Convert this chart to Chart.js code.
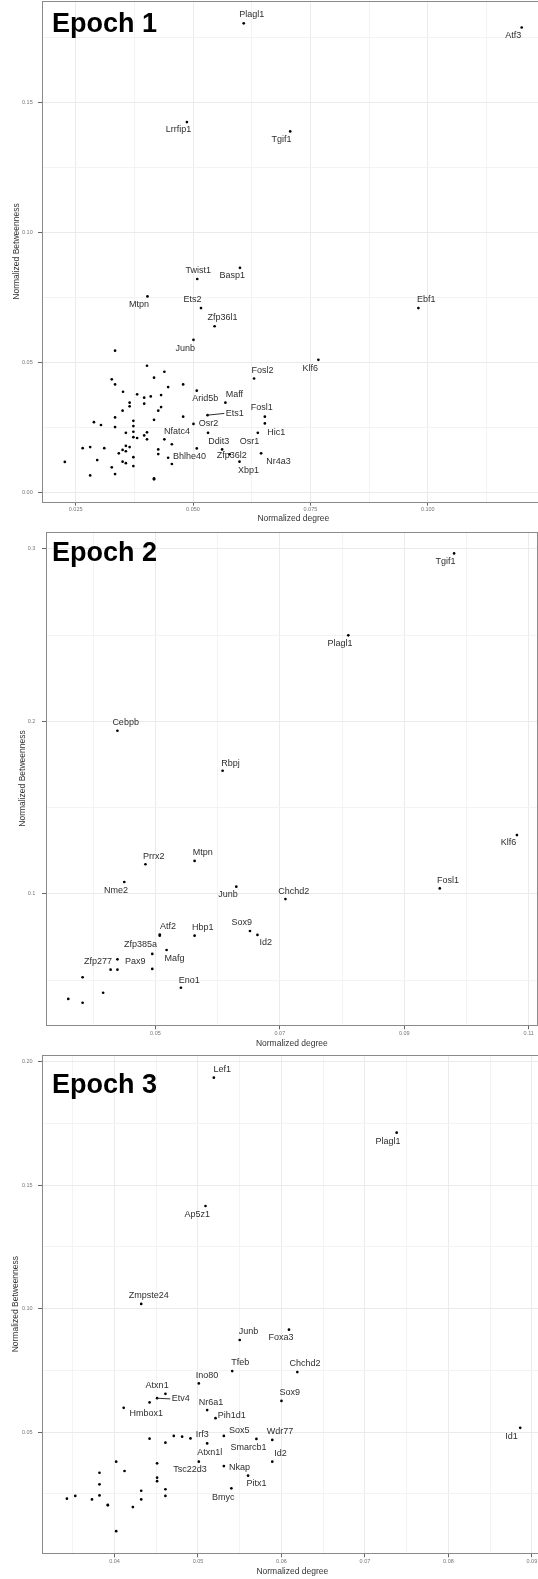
<!DOCTYPE html>
<html>
<head>
<meta charset="utf-8">
<script src="https://cdn.jsdelivr.net/npm/chart.js@4.4.1/dist/chart.umd.min.js"></script>
<style>
html,body{margin:0;padding:0;background:#fff;overflow:hidden;width:538px;height:1579px;}
#wrap{position:relative;width:538px;height:1579px;overflow:hidden;background:#fff;}
canvas{position:absolute;left:0;}
.epoch{position:absolute;left:52px;font-family:"Liberation Sans",Arial,Helvetica,sans-serif;font-weight:bold;font-size:27px;line-height:27px;color:#000;white-space:nowrap;z-index:2;}
</style>
</head>
<body>
<div id="wrap">
<canvas id="c1" width="546" height="526" style="top:0px;width:546px;height:526px"></canvas>
<canvas id="c2" width="539" height="524" style="top:526px;width:539px;height:524px"></canvas>
<canvas id="c3" width="544" height="529" style="top:1050px;width:544px;height:529px"></canvas>
<div class="epoch" style="top:9.5px">Epoch 1</div>
<div class="epoch" style="top:539px">Epoch 2</div>
<div class="epoch" style="top:1070.5px">Epoch 3</div>
</div>
<script>
const FONT = '"Liberation Sans", Arial, Helvetica, sans-serif';

// ---------------- Epoch 1 ----------------
const e1Genes = ['Plagl1','Atf3','Lrrfip1','Tgif1','Twist1','Basp1','Mtpn','Ets2','Zfp36l1','Ebf1','Junb','Klf6','Fosl2','Arid5b','Maff','Ets1','Fosl1','Hic1','Osr2','Ddit3','Osr1','Nfatc4','Zfp36l2','Nr4a3','Bhlhe40','Xbp1'];
const e1Degree = [0.0608,0.1200,0.0487,0.0707,0.0509,0.0600,0.0403,0.0517,0.0546,0.0980,0.0501,0.0767,0.0630,0.0508,0.0569,0.0531,0.0653,0.0653,0.0501,0.0532,0.0638,0.0439,0.0562,0.0645,0.0447,0.0599];
const e1Betweenness = [0.1805,0.1789,0.1425,0.1389,0.0821,0.0864,0.0754,0.0709,0.0639,0.0709,0.0587,0.0510,0.0438,0.0391,0.0345,0.0297,0.0291,0.0265,0.0263,0.0229,0.0229,0.0204,0.0165,0.0150,0.0133,0.0118];
const e1OtherDegree = [0.0334,0.0402,0.0327,0.0334,0.0417,0.0351,0.0381,0.0396,0.0410,0.0365,0.0365,0.0396,0.0426,0.0350,0.0334,0.0417,0.0289,0.0304,0.0334,0.0373,0.0373,0.0373,0.0357,0.0373,0.0381,0.0396,0.0402,0.0402,0.0265,0.0281,0.0311,0.0357,0.0365,0.0350,0.0357,0.0342,0.0373,0.0426,0.0426,0.0227,0.0296,0.0350,0.0357,0.0373,0.0327,0.0334,0.0281,0.0417,0.0417,0.0439,0.0479,0.0447,0.0432,0.0432,0.0479,0.0455,0.0508,0.0578,0.0455];
const e1OtherBetweenness = [0.0545,0.0487,0.0435,0.0415,0.0441,0.0387,0.0377,0.0364,0.0369,0.0345,0.0331,0.0341,0.0314,0.0314,0.0288,0.0279,0.0270,0.0259,0.0251,0.0275,0.0255,0.0233,0.0229,0.0212,0.0209,0.0219,0.0231,0.0204,0.0170,0.0174,0.0170,0.0179,0.0174,0.0163,0.0158,0.0150,0.0135,0.0165,0.0147,0.0117,0.0124,0.0118,0.0112,0.0101,0.0096,0.0070,0.0065,0.0054,0.0050,0.0464,0.0415,0.0405,0.0374,0.0328,0.0291,0.0185,0.0169,0.0146,0.0109];
const e1XTicks = [0.025,0.05,0.075,0.1];
const e1XTickLabels = ['0.025','0.050','0.075','0.100'];
const e1YTicks = [0,0.05,0.1,0.15];
const e1YTickLabels = ['0.00','0.05','0.10','0.15'];
const e1XRange = [0.01784,0.12489];
const e1YRange = [-0.00362,0.18896];

// ---------------- Epoch 2 ----------------
const e2Genes = ['Tgif1','Plagl1','Cebpb','Rbpj','Klf6','Prrx2','Mtpn','Nme2','Junb','Chchd2','Fosl1','Sox9','Id2','Hbp1','Atf2','Zfp385a','Mafg','Zfp277','Pax9','Eno1'];
const e2Degree = [0.0980,0.0810,0.0439,0.0608,0.1081,0.0484,0.0563,0.0450,0.0630,0.0709,0.0957,0.0652,0.0664,0.0563,0.0507,0.0495,0.0518,0.0439,0.0495,0.0541];
const e2Betweenness = [0.2974,0.2499,0.1946,0.1714,0.1341,0.1172,0.1191,0.1069,0.1042,0.0970,0.1032,0.0785,0.0762,0.0758,0.0764,0.0652,0.0675,0.0621,0.0565,0.0456];
const e2OtherDegree = [0.0507,0.0428,0.0439,0.0383,0.0416,0.0360,0.0383];
const e2OtherBetweenness = [0.0758,0.0561,0.0561,0.0517,0.0427,0.0391,0.0369];
const e2XTicks = [0.05,0.07,0.09,0.11];
const e2XTickLabels = ['0.05','0.07','0.09','0.11'];
const e2YTicks = [0.1,0.2,0.3];
const e2YTickLabels = ['0.1','0.2','0.3'];
const e2XRange = [0.03242,0.11143];
const e2YRange = [0.02383,0.3100];

// ---------------- Epoch 3 ----------------
const e3Genes = ['Lef1','Plagl1','Ap5z1','Zmpste24','Junb','Foxa3','Tfeb','Chchd2','Ino80','Atxn1','Etv4','Hmbox1','Nr6a1','Pih1d1','Sox9','Id1','Irf3','Sox5','Atxn1l','Smarcb1','Wdr77','Id2','Tsc22d3','Nkap','Pitx1','Bmyc'];
const e3Degree = [0.0519,0.0738,0.0509,0.0432,0.0550,0.0609,0.0541,0.0619,0.0501,0.0461,0.0451,0.0411,0.0511,0.0521,0.0600,0.0886,0.0491,0.0531,0.0511,0.0570,0.0589,0.0589,0.0501,0.0531,0.0560,0.0540];
const e3Betweenness = [0.1936,0.1713,0.1416,0.1019,0.0873,0.0915,0.0747,0.0743,0.0697,0.0655,0.0637,0.0598,0.0589,0.0556,0.0626,0.0517,0.0474,0.0484,0.0454,0.0472,0.0468,0.0380,0.0380,0.0362,0.0323,0.0272];
const e3OtherDegree = [0.0442,0.0471,0.0481,0.0442,0.0461,0.0402,0.0412,0.0382,0.0382,0.0382,0.0451,0.0451,0.0451,0.0432,0.0432,0.0461,0.0461,0.0343,0.0353,0.0373,0.0392,0.0392,0.0422,0.0402];
const e3OtherBetweenness = [0.0620,0.0484,0.0481,0.0473,0.0457,0.0380,0.0342,0.0335,0.0288,0.0243,0.0373,0.0315,0.0301,0.0262,0.0227,0.0268,0.0241,0.0230,0.0241,0.0227,0.0205,0.0203,0.0196,0.0098];
const e3XTicks = [0.04,0.05,0.06,0.07,0.08,0.09];
const e3XTickLabels = ['0.04','0.05','0.06','0.07','0.08','0.09'];
const e3YTicks = [0.05,0.1,0.15,0.2];
const e3YTickLabels = ['0.05','0.10','0.15','0.20'];
const e3XRange = [0.031314,0.09129];
const e3YRange = [0.00085,0.2028];

// ---------------- label placement (text nudges in px, repel-style) ----------------
const e1LabelNudge = [[8,-9],[-8.5,8.3],[-8.5,7.7],[-8.8,8.3],[1,-8.7],[-7.8,7.7],[-8.5,8.3],[-8.5,-8.3],[7.8,-8.3],[7.8,-8.3],[-8.2,9],[-8.2,8.3],[8.4,-8.3],[8.4,7.6],[9,-7.7],[27.3,-1.7],[-3,-9],[11.4,9],[15,0],[10.7,8.3],[-8.3,8.3],[12.7,-7.6],[9.6,5.7],[17.3,8.4],[21.3,-1],[9,9]];
const e2LabelNudge = [[-8.5,8.3],[-8.2,8],[8.2,-8],[7.8,-7.4],[-8.5,7.7],[8.2,-8],[8.2,-8],[-8.2,8],[-8.2,8.3],[8.2,-8],[8.2,-8.3],[-8.2,-8],[8.2,8],[8.2,-8],[8.3,-8.3],[-11.7,-9],[8,8.7],[-19.4,2.4],[-17,-7.3],[8.3,-7.7]];
const e3LabelNudge = [[8.3,-8.3],[-8.7,8.3],[-8.3,8.3],[7.6,-8.3],[8.7,-8],[-8,8.3],[8,-8.3],[7.6,-8.3],[8.3,-8],[-8.3,-8.7],[23.7,0.7],[22.5,5.5],[3.9,-7.7],[16.3,-2.6],[8.3,-8.3],[-8.7,8.3],[11.7,-4.3],[15.3,-5.3],[2.7,9],[-7.9,8.3],[7.7,-8],[8.2,-8.4],[-8.8,8.3],[15.7,1.3],[8.4,8.3],[-8,9]];

const MAJOR_GRID = '#ebebeb';
const MINOR_GRID = '#f3f3f3';

function tickList(major, labels, min, max) {
  const step = major[1] - major[0];
  const map = {};
  major.forEach((v, i) => { map[v.toFixed(5)] = labels[i]; });
  const values = [];
  for (let k = -6; k <= 2 * major.length + 6; k++) {
    const v = +(major[0] + k * step / 2).toFixed(6);
    if (v >= min - 1e-9 && v <= max + 1e-9) values.push(v);
  }
  return {
    values,
    label: v => { const s = map[(+v).toFixed(5)]; return s === undefined ? '' : s; },
    isMajor: v => map[(+v).toFixed(5)] !== undefined
  };
}

function makePanel(p) {
  const xt = tickList(p.xMajor, p.xLabels, p.xRange[0], p.xRange[1]);
  const yt = tickList(p.yMajor, p.yLabels, p.yRange[0], p.yRange[1]);
  const labelled = p.genes.map((g, i) => ({x: p.degree[i], y: p.betweenness[i]}));
  const others = p.otherDegree.map((d, i) => ({x: d, y: p.otherBetweenness[i]}));
  const ptStyle = {pointRadius: 1.35, pointHoverRadius: 1.35, pointBackgroundColor: '#000', pointBorderColor: '#000', pointBorderWidth: 0, showLine: false};
  const decor = {
    id: 'panelDecor',
    beforeDatasetsDraw(chart) {
      const a = chart.chartArea, ctx = chart.ctx;
      ctx.save();
      ctx.strokeStyle = '#8a8a8a';
      ctx.lineWidth = 1;
      const l = Math.round(a.left) + 0.5, t = Math.round(a.top) + 0.5;
      const r = Math.round(a.right) - 0.5, b = Math.round(a.bottom) + 0.5;
      ctx.strokeRect(l, t, r - l, b - t);
      ctx.restore();
    },
    afterDatasetsDraw(chart) {
      const ctx = chart.ctx;
      const meta = chart.getDatasetMeta(0);
      ctx.save();
      ctx.font = '9px ' + FONT;
      ctx.fillStyle = '#2e2e2e';
      ctx.textAlign = 'center';
      ctx.textBaseline = 'middle';
      p.genes.forEach((g, i) => {
        const el = meta.data[i];
        const nd = p.nudge[i];
        const lx = el.x + nd[0], ly = el.y + nd[1];
        if (p.leaders.indexOf(g) >= 0) {
          const w = ctx.measureText(g).width;
          ctx.beginPath();
          ctx.moveTo(el.x, el.y);
          ctx.lineTo(lx - w / 2 - 1.5, ly);
          ctx.strokeStyle = '#2e2e2e';
          ctx.lineWidth = 1;
          ctx.stroke();
        }
        ctx.fillText(g, lx, ly);
      });
      ctx.restore();
    }
  };
  new Chart(document.getElementById(p.id), {
    type: 'scatter',
    data: {datasets: [Object.assign({data: labelled}, ptStyle), Object.assign({data: others}, ptStyle)]},
    options: {
      responsive: false,
      animation: false,
      events: [],
      devicePixelRatio: 1,
      layout: {padding: {top: p.L.top, left: 0, right: 0, bottom: 0}},
      plugins: {legend: {display: false}, tooltip: {enabled: false}},
      scales: {
        x: {
          type: 'linear', position: 'bottom', min: p.xRange[0], max: p.xRange[1],
          afterBuildTicks: s => { s.ticks = xt.values.map(v => ({value: v})); },
          afterFit: s => { s.height = p.L.xAxisH; s.paddingLeft = 0; s.paddingRight = 0; },
          ticks: {autoSkip: false, maxRotation: 0, minRotation: 0, padding: 0.6, color: '#767676',
                  font: {family: FONT, size: 5.5}, callback: v => xt.label(v)},
          grid: {color: c => (c.tick && xt.isMajor(c.tick.value)) ? MAJOR_GRID : MINOR_GRID, lineWidth: 1,
                 drawTicks: true, tickLength: 4, tickWidth: 1,
                 tickColor: c => (c.tick && xt.isMajor(c.tick.value)) ? '#666' : 'rgba(0,0,0,0)'},
          border: {display: false},
          title: {display: true, text: 'Normalized degree', color: '#333', font: {family: FONT, size: 8.5},
                  padding: {top: 0, bottom: p.L.xTitlePad}}
        },
        y: {
          type: 'linear', position: 'left', min: p.yRange[0], max: p.yRange[1],
          afterBuildTicks: s => { s.ticks = yt.values.map(v => ({value: v})); },
          afterFit: s => { s.width = p.L.yAxisW; s.paddingTop = 0; s.paddingBottom = 0; },
          ticks: {autoSkip: false, padding: p.L.yTickPad, color: '#767676',
                  font: {family: FONT, size: 5.5}, callback: v => yt.label(v)},
          grid: {color: c => (c.tick && yt.isMajor(c.tick.value)) ? MAJOR_GRID : MINOR_GRID, lineWidth: 1,
                 drawTicks: true, tickLength: 4, tickWidth: 1,
                 tickColor: c => (c.tick && yt.isMajor(c.tick.value)) ? '#666' : 'rgba(0,0,0,0)'},
          border: {display: false},
          title: {display: true, text: 'Normalized Betweenness', color: '#333', font: {family: FONT, size: 8.5},
                  padding: {top: p.L.yTitlePad, bottom: 0}}
        }
      }
    },
    plugins: [decor]
  });
}

makePanel({id: 'c1', genes: e1Genes, degree: e1Degree, betweenness: e1Betweenness,
  otherDegree: e1OtherDegree, otherBetweenness: e1OtherBetweenness,
  xMajor: e1XTicks, xLabels: e1XTickLabels, yMajor: e1YTicks, yLabels: e1YTickLabels,
  xRange: e1XRange, yRange: e1YRange, nudge: e1LabelNudge, leaders: ['Ets1'],
  L: {top: 1, yAxisW: 42, xAxisH: 24.3, xTitlePad: 2.6, yTitlePad: 11.9, yTickPad: 5.3}});

makePanel({id: 'c2', genes: e2Genes, degree: e2Degree, betweenness: e2Betweenness,
  otherDegree: e2OtherDegree, otherBetweenness: e2OtherBetweenness,
  xMajor: e2XTicks, xLabels: e2XTickLabels, yMajor: e2YTicks, yLabels: e2YTickLabels,
  xRange: e2XRange, yRange: e2YRange, nudge: e2LabelNudge, leaders: [],
  L: {top: 5.7, yAxisW: 46, xAxisH: 24.7, xTitlePad: 1.6, yTitlePad: 17.4, yTickPad: 6.6}});

makePanel({id: 'c3', genes: e3Genes, degree: e3Degree, betweenness: e3Betweenness,
  otherDegree: e3OtherDegree, otherBetweenness: e3OtherBetweenness,
  xMajor: e3XTicks, xLabels: e3XTickLabels, yMajor: e3YTicks, yLabels: e3YTickLabels,
  xRange: e3XRange, yRange: e3YRange, nudge: e3LabelNudge, leaders: ['Etv4'],
  L: {top: 5, yAxisW: 42, xAxisH: 25.7, xTitlePad: 2.2, yTitlePad: 10.5, yTickPad: 5.4}});
</script>
</body>
</html>
